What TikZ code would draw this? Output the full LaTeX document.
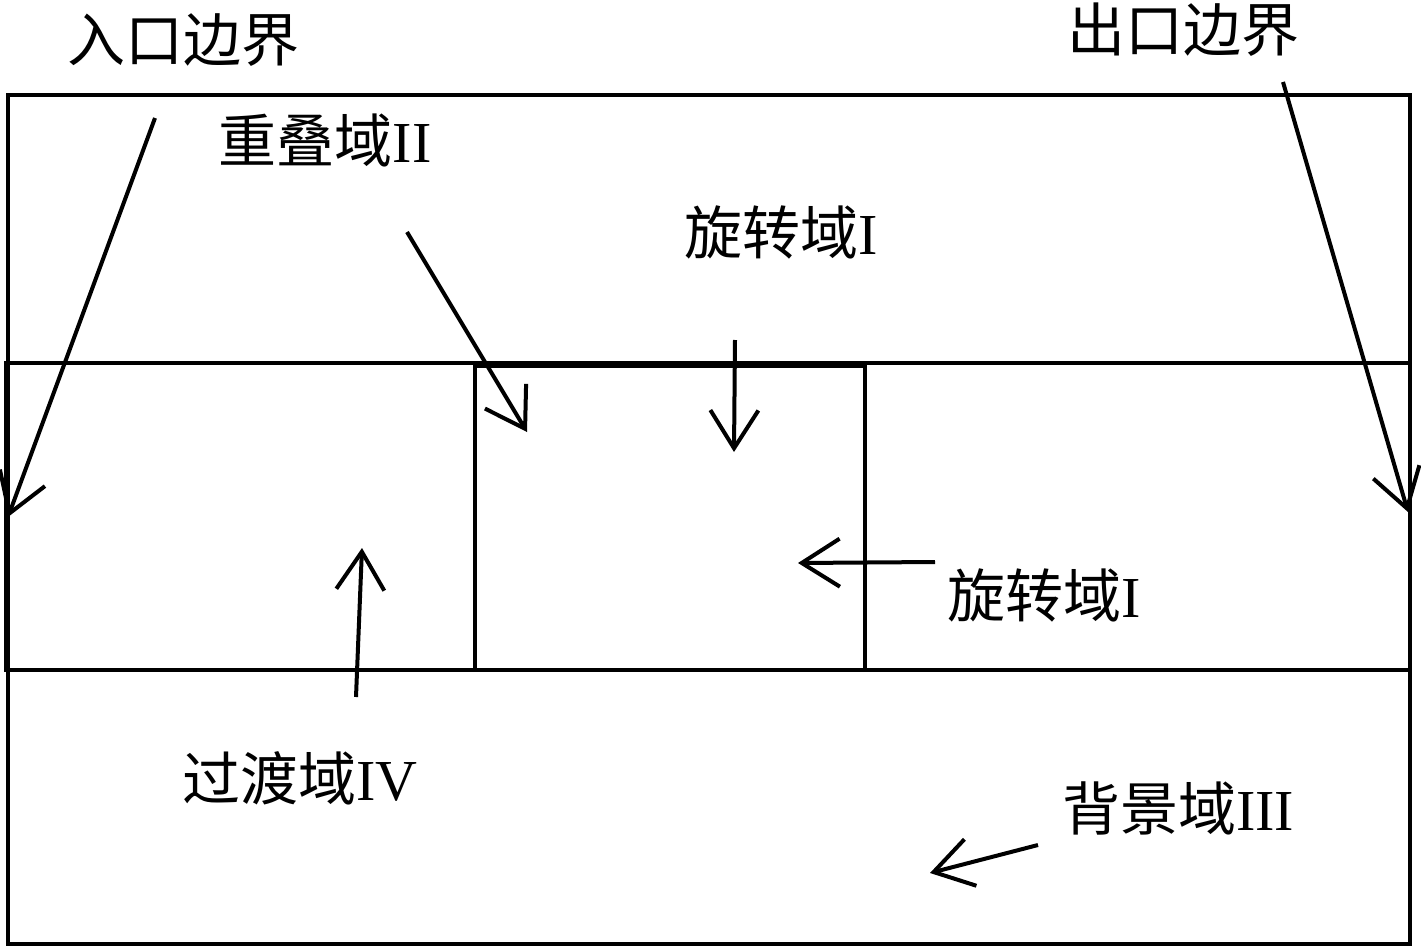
\documentclass[tikz,border=0pt]{standalone}
\usepackage{fontspec}
\setmainfont{Liberation Serif}
\newfontfamily\cjk{Noto Sans CJK SC}
\usetikzlibrary{arrows.meta}
\begin{document}
\begin{tikzpicture}[x=0.5pt,y=-0.5pt, line width=2pt,
 lbl/.style={font=\fontsize{29}{32}\selectfont, inner sep=0pt, anchor=center},
 arr/.style={-{Straight Barb[length=19pt,width=24pt,line width=2pt]}, line width=2pt}]
\useasboundingbox (0,0) rectangle (1421,948);
% domains
\draw (8,95) rectangle (1410,944);
\draw (6,363) rectangle (1410,670);
\draw (475,366) rectangle (865,670);
% labels
\node[lbl] (inlet) at (184,40) {{\cjk 入口边界}};
\node[lbl] (outlet) at (1183,30) {{\cjk 出口边界}};
\node[lbl] (overlap) at (325,140) {{\cjk 重叠域}II};
\node[lbl] (rotA) at (781,232) {{\cjk 旋转域}I};
\node[lbl] (rotB) at (1044,595) {{\cjk 旋转域}I};
\node[lbl] (trans) at (300,778) {{\cjk 过渡域}IV};
\node[lbl] (back) at (1178,808) {{\cjk 背景域}III};
% arrow ends
\coordinate (a1s) at (155,118); \coordinate (a1e) at (8,517);
\coordinate (a2s) at (1283,82); \coordinate (a2e) at (1408,512);
\coordinate (a3s) at (407,232); \coordinate (a3e) at (527,432);
\coordinate (a4s) at (735,340); \coordinate (a4e) at (734,452);
\coordinate (a5s) at (935,562); \coordinate (a5e) at (798,563);
\coordinate (a6s) at (356,697); \coordinate (a6e) at (362,548);
\coordinate (a7s) at (1038,845); \coordinate (a7e) at (930,873);
\draw[arr] (a1s) -- (a1e);
\draw[arr] (a2s) -- (a2e);
\draw[arr] (a3s) -- (a3e);
\draw[arr] (a4s) -- (a4e);
\draw[arr] (a5s) -- (a5e);
\draw[arr] (a6s) -- (a6e);
\draw[arr] (a7s) -- (a7e);
\end{tikzpicture}
\end{document}
